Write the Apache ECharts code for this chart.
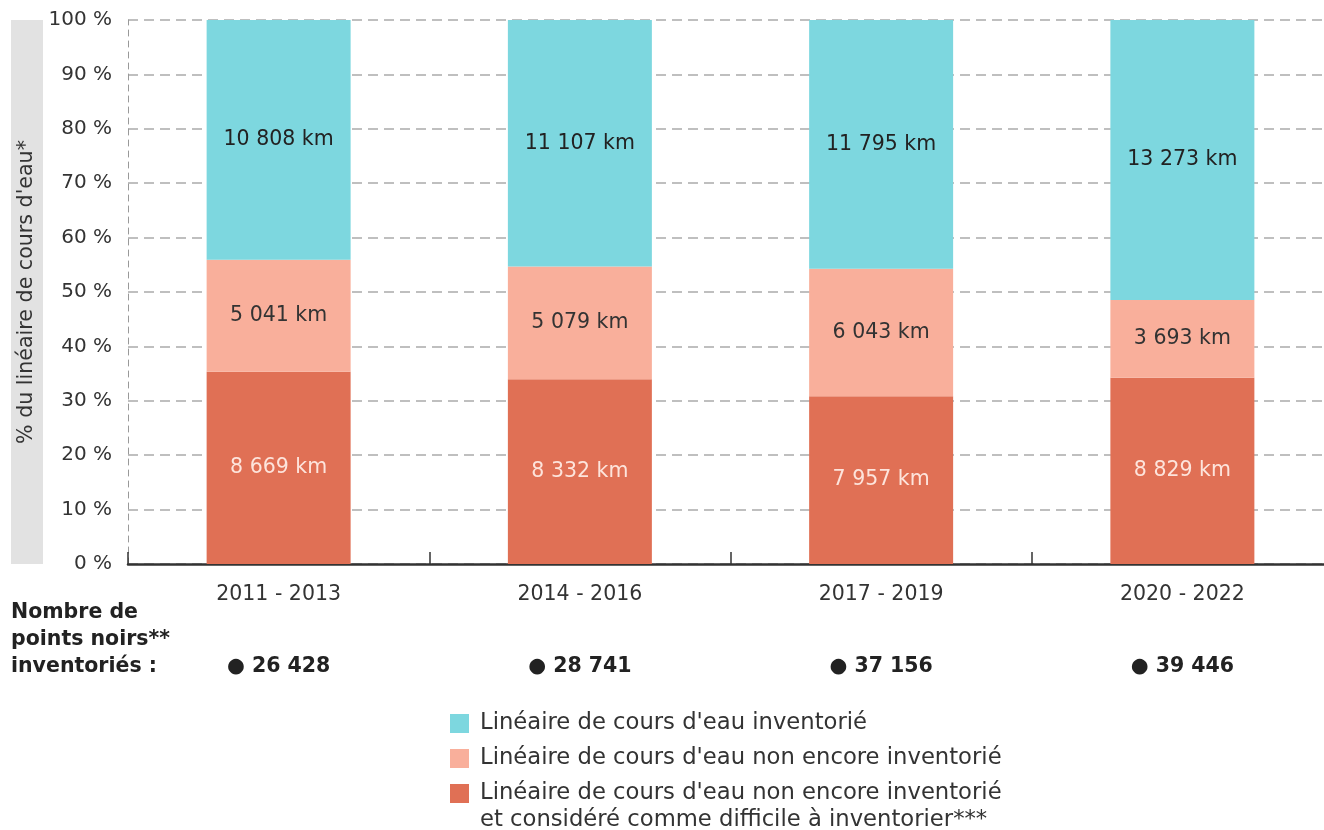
<!DOCTYPE html>
<html>
<head>
<meta charset="utf-8">
<script src="https://cdn.jsdelivr.net/npm/echarts@6/dist/echarts.min.js"></script>
<style>html,body{margin:0;padding:0;background:#fff;overflow:hidden}#c{width:1340px;height:830px}</style>
</head>
<body>
<div id="c"></div>
<script>
const categories = ['2011 - 2013', '2014 - 2016', '2017 - 2019', '2020 - 2022'];
const kmDifficile = [8669, 8332, 7957, 8829];
const kmNonInventorie = [5041, 5079, 6043, 3693];
const kmInventorie = [10808, 11107, 11795, 13273];
const pointsNoirs = [26428, 28741, 37156, 39446];
const seriesNames = [
  "Linéaire de cours d'eau inventorié",
  "Linéaire de cours d'eau non encore inventorié",
  "Linéaire de cours d'eau non encore inventorié\net considéré comme difficile à inventorier***"
];
const yTicks = [0, 10, 20, 30, 40, 50, 60, 70, 80, 90, 100];
const colors = ['#7dd7df', '#f9af9b', '#e07055'];
const FONT = 'DejaVu Sans';

function fmt(n) { return String(n).replace(/\B(?=(\d{3})+(?!\d))/g, ' '); }
const totals = categories.map((c, i) => kmDifficile[i] + kmNonInventorie[i] + kmInventorie[i]);
const pct = arr => arr.map((v, i) => v / totals[i] * 100);

function mkSeries(name, arr, color, labelColor) {
  return {
    name: name, type: 'bar', stack: 'all', barWidth: 144,
    data: pct(arr),
    itemStyle: { color: color },
    label: {
      show: true, position: 'inside', color: labelColor, fontFamily: FONT, fontSize: 20.5,
      formatter: p => fmt(arr[p.dataIndex]) + ' km'
    },
    emphasis: { disabled: true }
  };
}

const chart = echarts.init(document.getElementById('c'), null, { renderer: 'canvas' });
const legendGraphics = [];
const legendY = [714, 749, 784];
for (let i = 0; i < 3; i++) {
  legendGraphics.push({ type: 'rect', shape: { x: 450, y: legendY[i], width: 19, height: 19 }, style: { fill: colors[i] } });
  legendGraphics.push({ type: 'text', x: 480, y: legendY[i] - 4, style: { text: seriesNames[i], font: '22.7px "' + FONT + '"', fill: '#333', lineHeight: 27, textVerticalAlign: 'top' } });
}

chart.setOption({
  animation: false,
  textStyle: { fontFamily: FONT },
  grid: { left: 128, top: 20, bottom: 266, right: 7, containLabel: false },
  xAxis: [{
    type: 'category', data: categories, boundaryGap: true,
    axisLine: { lineStyle: { color: '#333', width: 2.5 } },
    axisTick: { show: true, inside: true, length: 12, lineStyle: { color: '#333', width: 1.5 } },
    axisLabel: { color: '#333', fontSize: 20.5, margin: 20, fontFamily: FONT }
  }, {
    type: 'category', data: categories, position: 'bottom', offset: 84,
    axisLine: { show: false }, axisTick: { show: false },
    axisLabel: { color: '#222', fontSize: 20.5, fontWeight: 'bold', fontFamily: FONT,
      formatter: (v, i) => '● ' + fmt(pointsNoirs[i]) }
  }],
  yAxis: {
    type: 'value', min: 0, max: 100, interval: 10,
    axisLine: { show: true, lineStyle: { color: '#999', type: [6, 5], width: 1 } },
    axisTick: { show: false },
    splitLine: { lineStyle: { color: '#aaa', type: [10, 6], width: 1.5 } },
    axisLabel: { color: '#333', fontSize: 20, margin: 16, fontFamily: FONT,
      formatter: v => yTicks.includes(v) ? v + ' %' : '' }
  },
  series: [
    mkSeries(seriesNames[2], kmDifficile, colors[2], '#fde4dc'),
    mkSeries(seriesNames[1], kmNonInventorie, colors[1], '#333'),
    mkSeries(seriesNames[0], kmInventorie, colors[0], '#222')
  ],
  graphic: [
    { type: 'rect', shape: { x: 11, y: 20, width: 32, height: 544 }, style: { fill: '#e2e2e2' }, z: 0 },
    { type: 'text', x: 27, y: 292, rotation: Math.PI / 2, style: { text: "% du linéaire de cours d'eau*", font: '20.6px "' + FONT + '"', fill: '#333', textAlign: 'center', textVerticalAlign: 'middle' } },
    { type: 'text', x: 11, y: 599, style: { text: 'Nombre de\npoints noirs**\ninventoriés :', font: 'bold 20.5px "' + FONT + '"', fill: '#222', lineHeight: 27, textVerticalAlign: 'top' } }
  ].concat(legendGraphics)
});
</script>
</body>
</html>
